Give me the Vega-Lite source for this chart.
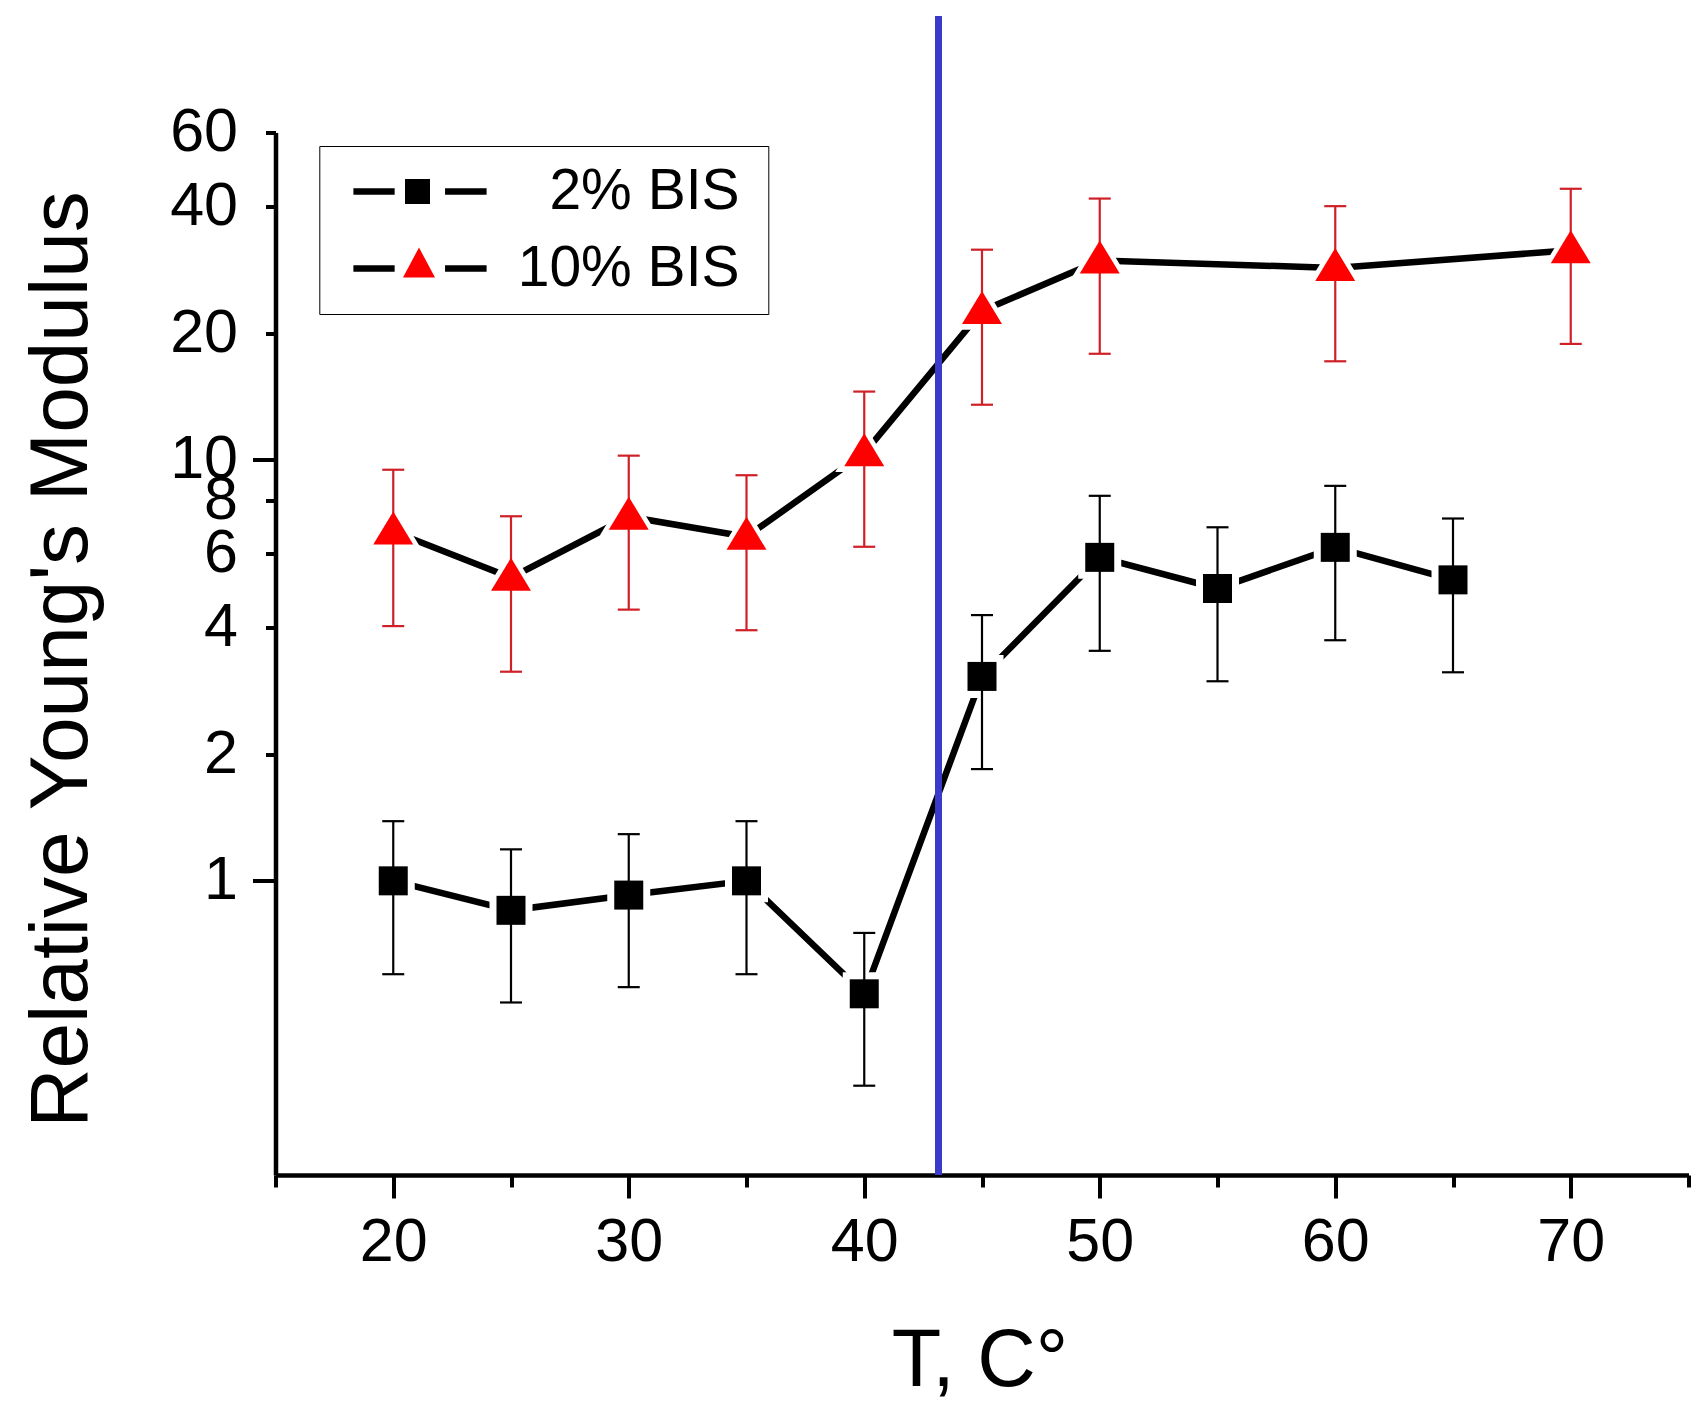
{
  "$schema": "https://vega.github.io/schema/vega-lite/v6.json",
  "width": 1413,
  "height": 1042.5,
  "autosize": {"type": "none"},
  "padding": {"left": 275.5, "top": 132.5, "right": 12.5, "bottom": 229},
  "background": "white",
  "config": {
    "view": {"stroke": null},
    "font": "Liberation Sans",
    "axis": {
      "grid": false,
      "domainColor": "black",
      "domainWidth": 4.5,
      "tickColor": "black",
      "tickWidth": 4,
      "labelColor": "black",
      "labelFont": "Liberation Sans",
      "labelFontSize": 61,
      "labelOverlap": false,
      "titleFont": "Liberation Sans",
      "titleColor": "black",
      "titleFontWeight": "normal"
    }
  },
  "data": {
    "values": [
      {"T": 20, "series": "2% BIS", "group": "2% BIS", "v": 1.0, "lo": 0.6, "hi": 1.386},
      {"T": 25, "series": "2% BIS", "group": "2% BIS", "v": 0.851, "lo": 0.514, "hi": 1.188},
      {"T": 30, "series": "2% BIS", "group": "2% BIS", "v": 0.925, "lo": 0.559, "hi": 1.291},
      {"T": 35, "series": "2% BIS", "group": "2% BIS", "v": 1.0, "lo": 0.6, "hi": 1.386},
      {"T": 40, "series": "2% BIS", "group": "2% BIS", "v": 0.539, "lo": 0.326, "hi": 0.752},
      {"T": 45, "series": "2% BIS", "group": "2% BIS", "v": 3.06, "lo": 1.843, "hi": 4.28},
      {"T": 50, "series": "2% BIS", "group": "2% BIS", "v": 5.87, "lo": 3.52, "hi": 8.22},
      {"T": 55, "series": "2% BIS", "group": "2% BIS", "v": 4.95, "lo": 2.98, "hi": 6.92},
      {"T": 60, "series": "2% BIS", "group": "2% BIS", "v": 6.2, "lo": 3.73, "hi": 8.68},
      {"T": 65, "series": "2% BIS", "group": "2% BIS", "v": 5.19, "lo": 3.13, "hi": 7.26},
      {"T": 20, "series": "10% BIS", "group": "10% BIS", "v": 6.76, "lo": 4.03, "hi": 9.48},
      {"T": 25, "series": "10% BIS", "group": "10% BIS", "v": 5.25, "lo": 3.14, "hi": 7.35},
      {"T": 30, "series": "10% BIS", "group": "10% BIS", "v": 7.33, "lo": 4.41, "hi": 10.24},
      {"T": 35, "series": "10% BIS", "group": "10% BIS", "v": 6.57, "lo": 3.94, "hi": 9.2},
      {"T": 40, "series": "10% BIS", "group": "10% BIS", "v": 10.38, "lo": 6.22, "hi": 14.54},
      {"T": 45, "series": "10% BIS", "group": "10% BIS", "v": 22.6, "lo": 13.53, "hi": 31.6},
      {"T": 50, "series": "10% BIS", "group": "10% BIS", "v": 29.8, "lo": 17.88, "hi": 41.8},
      {"T": 60, "series": "10% BIS", "group": "10% BIS", "v": 28.6, "lo": 17.16, "hi": 40.1},
      {"T": 70, "series": "10% BIS", "group": "10% BIS", "v": 31.5, "lo": 18.87, "hi": 44.1}
    ]
  },
  "encoding": {
    "x": {
      "field": "T",
      "type": "quantitative",
      "scale": {"domain": [15, 75], "nice": false, "zero": false},
      "axis": {
        "values": [15, 20, 25, 30, 35, 40, 45, 50, 55, 60, 65, 70, 75],
        "labelExpr": "datum.value % 10 == 0 ? datum.label : ''",
        "tickSize": {"condition": {"test": "datum.value % 10 == 0", "value": 23}, "value": 12},
        "labelPadding": 14,
        "title": "T, C°",
        "titleFontSize": 81,
        "titleX": 704,
        "titleY": 210,
        "titleAlign": "center",
        "titleBaseline": "alphabetic",
        "titleAngle": 0
      }
    }
  },
  "layer": [
    {
      "mark": {"type": "line", "strokeWidth": 6.5},
      "encoding": {
        "y": {
          "field": "v",
          "type": "quantitative",
          "scale": {"type": "log", "domain": [0.2, 60], "nice": false},
          "axis": {
            "values": [1, 2, 4, 6, 8, 10, 20, 40, 60],
            "format": "~g",
            "tickSize": {"condition": {"test": "datum.value == 1 || datum.value == 10", "value": 23}, "value": 10},
            "labelPadding": {"condition": {"test": "datum.value == 1 || datum.value == 10", "value": 15}, "value": 28},
            "title": "Relative Young's Modulus",
            "titleFontSize": 82,
            "titleAngle": 270,
            "titleX": -189.5,
            "titleY": 526.5,
            "titleAlign": "center",
            "titleBaseline": "alphabetic"
          }
        },
        "stroke": {
          "field": "series",
          "type": "nominal",
          "scale": {"domain": ["2% BIS", "10% BIS"], "range": ["black", "black"]},
          "legend": {
            "orient": "none",
            "legendX": 43.8,
            "legendY": 13.5,
            "title": null,
            "direction": "vertical",
            "symbolType": "M-4.44,0H-1.69M1.67,0H4.44M21.2,0",
            "symbolSize": 900,
            "symbolStrokeWidth": 6.5,
            "symbolStrokeColor": "black",
            "symbolFillColor": "transparent",
            "symbolOffset": 55.2,
            "labelFont": "Liberation Sans",
            "labelFontSize": 57,
            "labelColor": "black",
            "labelAlign": "right",
            "labelOffset": 291,
            "labelLimit": 0,
            "padding": 17,
            "rowPadding": 19,
            "strokeColor": "black"
          }
        }
      }
    },
    {
      "transform": [{"filter": "datum.series == '2% BIS'"}],
      "mark": {"type": "point", "shape": "square", "size": 1849, "filled": true, "fill": "white", "opacity": 1, "strokeWidth": 0},
      "encoding": {"y": {"field": "v", "type": "quantitative"}}
    },
    {
      "transform": [{"filter": "datum.series == '10% BIS'"}],
      "mark": {"type": "point", "shape": "M0,-1L1,0.65L-1,0.65Z", "size": 3364, "filled": true, "fill": "white", "opacity": 1, "strokeWidth": 0},
      "encoding": {"y": {"field": "v", "type": "quantitative"}}
    },
    {
      "mark": {"type": "rule", "color": "#3b3bc9", "strokeWidth": 6},
      "encoding": {
        "x": {"datum": 43.15},
        "y": {"datum": 0.2},
        "y2": {"datum": 113}
      }
    },
    {
      "mark": {"type": "rule", "strokeWidth": 2.2},
      "encoding": {
        "y": {"field": "lo", "type": "quantitative"},
        "y2": {"field": "hi"},
        "color": {"field": "series", "type": "nominal", "scale": {"domain": ["2% BIS", "10% BIS"], "range": ["black", "#cf2027"]}, "legend": null}
      }
    },
    {
      "mark": {"type": "tick", "orient": "horizontal", "size": 22, "thickness": 2.2, "opacity": 1},
      "encoding": {
        "y": {"field": "lo", "type": "quantitative"},
        "color": {"field": "series", "type": "nominal", "legend": null}
      }
    },
    {
      "mark": {"type": "tick", "orient": "horizontal", "size": 22, "thickness": 2.2, "opacity": 1},
      "encoding": {
        "y": {"field": "hi", "type": "quantitative"},
        "color": {"field": "series", "type": "nominal", "legend": null}
      }
    },
    {
      "mark": {"type": "point", "filled": true, "opacity": 1, "strokeWidth": 0, "size": 841},
      "encoding": {
        "y": {"field": "v", "type": "quantitative"},
        "shape": {
          "field": "group",
          "type": "nominal",
          "sort": ["2% BIS", "10% BIS"],
          "scale": {"range": ["square", "M0,-1.379L1.379,0.897L-1.379,0.897Z"]},
          "legend": null
        },
        "fill": {
          "field": "group",
          "type": "nominal",
          "sort": ["2% BIS", "10% BIS"],
          "scale": {"range": ["black", "#ff0000"]},
          "legend": {
            "orient": "none",
            "legendX": 43.8,
            "legendY": 13.5,
            "title": null,
            "direction": "vertical",
            "symbolType": {"expr": "datum.value === '2% BIS' ? 'M-1,-0.833H0.667V0.833H-1Z' : 'M-1.133,0.6H1L-0.067,-1.4Z'"},
            "symbolSize": 900,
            "symbolStrokeWidth": 0,
            "symbolStrokeColor": "transparent",
            "symbolOffset": 55.2,
            "labelFont": "Liberation Sans",
            "labelFontSize": 57,
            "labelAlign": "right",
            "labelOffset": 291,
            "labelLimit": 0,
            "labelOpacity": 0,
            "padding": 17,
            "rowPadding": 19
          }
        }
      }
    }
  ]
}
